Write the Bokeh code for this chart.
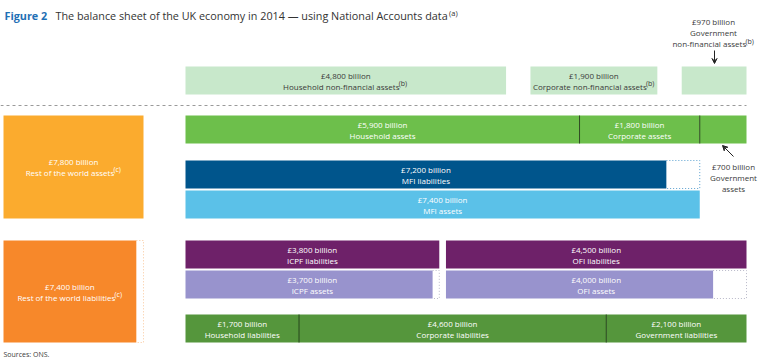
from bokeh.plotting import figure
from bokeh.models import Range1d, ColumnDataSource, Arrow, VeeHead
from bokeh.core.properties import value
from bokeh.embed import file_html
from bokeh.resources import INLINE

# ---------------- data (£ billion, 2014) ----------------
sectors = ["Household", "Corporate", "Government"]
nfa_values = [4800, 1900, 970]          # non-financial assets
asset_values = [5900, 1800, 700]        # financial assets by sector
liability_values = [1700, 4600, 2100]   # liabilities by sector
mfi_names = ["MFI liabilities", "MFI assets"]
mfi_values = [7200, 7400]
fin_names = ["ICPF", "OFI"]
fin_liabilities = [3800, 4500]
fin_assets = [3700, 4000]
row_names = ["Rest of the world assets", "Rest of the world liabilities"]
row_values = [7800, 7400]

# ---------------- layout / style ----------------
W, H = 760, 361
FONT = "Open Sans"
MAIN_LEFT_PX, MAIN_WIDTH_PX = 185, 561
ROW_LEFT_PX, ROW_WIDTH_PX = 3, 140
FS = 8        # label font size (px)
SFS = 7       # superscript font size (px)

C_NFA = "#c8e8cb"
C_ASSET = "#6dbf4b"
C_MFI_L = "#00558c"
C_MFI_A = "#5bc1e8"
C_ROW_A = "#fbab2e"
C_ROW_L = "#f7882a"
C_FIN_L = "#6e2169"
C_FIN_A = "#9893cd"
C_LIAB = "#55963c"
C_TEXT = "#3a3a3a"
C_TITLE = "#1f70b5"

# approximate Open Sans advance widths (fraction of em) for centring superscripts
CW = {" ": 0.26, "a": 0.556, "b": 0.613, "c": 0.476, "d": 0.613, "e": 0.561, "f": 0.339,
      "g": 0.548, "h": 0.614, "i": 0.253, "j": 0.253, "k": 0.525, "l": 0.253, "m": 0.93,
      "n": 0.614, "o": 0.604, "p": 0.613, "q": 0.613, "r": 0.408, "s": 0.477, "t": 0.353,
      "u": 0.614, "v": 0.5, "w": 0.778, "x": 0.524, "y": 0.502, "z": 0.461, "-": 0.322,
      "(": 0.296, ")": 0.296, "—": 1.0, ",": 0.245, ".": 0.266}


def tw(s, size):
    w = 0.0
    for ch in s:
        if ch in CW:
            w += CW[ch]
        elif ch.isdigit():
            w += 0.572
        elif ch.isupper():
            w += 0.66
        else:
            w += 0.55
    return w * size


total = sum(asset_values)
k = MAIN_WIDTH_PX / total
main_range = Range1d(-MAIN_LEFT_PX / k, (W - MAIN_LEFT_PX) / k)
kr = ROW_WIDTH_PX / max(row_values)
row_range = Range1d(-ROW_LEFT_PX / kr, (W - ROW_LEFT_PX) / kr)

p = figure(width=W, height=H, x_range=main_range, y_range=Range1d(H, 0),
           output_backend="svg", toolbar_location=None, min_border=0,
           x_axis_location=None, y_axis_location=None)
p.grid.visible = False
p.outline_line_color = None
p.background_fill_color = "white"
p.border_fill_color = "white"
p.extra_x_ranges = {"px": Range1d(0, W), "row": row_range}
px_per_unit = {"default": k, "row": kr, "px": 1.0}


def bars(lefts, rights, top, bottom, color, range_name="default"):
    src = ColumnDataSource(dict(left=lefts, right=rights,
                                top=[top] * len(lefts), bottom=[bottom] * len(lefts)))
    p.quad(left="left", right="right", top="top", bottom="bottom", source=src,
           fill_color=color, line_color=None, x_range_name=range_name)


def txt(x, y, s, color, size, align, range_name, style="normal"):
    p.text(x=[x], y=[y], text=[s], text_color=color, text_font=value(FONT),
           text_font_size=f"{size}px", text_align=align, text_baseline="middle",
           text_font_style=style, x_range_name=range_name)


def label(x, y, lines, color="white", range_name="default", gap=11, sup=None):
    n = len(lines)
    ys = [y + (i - (n - 1) / 2) * gap for i in range(n)]
    for i, (s, yy) in enumerate(zip(lines, ys)):
        if sup is not None and i == n - 1:
            wm, ws = tw(s, FS), tw(sup, SFS)
            ppu = px_per_unit[range_name]
            anchor = x + (wm - ws) / 2 / ppu
            txt(anchor, yy, s, color, FS, "right", range_name)
            txt(anchor - 0.8 / ppu, yy - 2.5, sup, color, SFS, "left", range_name)
        else:
            txt(x, yy, s, color, FS, "center", range_name)


def dotted(x0, x1, top, bottom, color, range_name="default"):
    p.multi_line(xs=[[x0, x1, x1, x0]], ys=[[top, top, bottom, bottom]],
                 line_color=color, line_dash="1 2", line_width=1, x_range_name=range_name)


def money(v):
    return f"£{v:,} billion"


def cum(vals, gap=0):
    lefts, rights, x = [], [], 0
    for v in vals:
        lefts.append(x)
        rights.append(x + v)
        x += v + gap
    return lefts, rights

# ---- non-financial assets row (spread across full width) ----
nfa_gap = (total - sum(nfa_values)) / (len(nfa_values) - 1)
l, r = cum(nfa_values, nfa_gap)
bars(l, r, 66, 94, C_NFA)
for i in range(2):
    label((l[i] + r[i]) / 2, 80,
          [money(nfa_values[i]), f"{sectors[i]} non-financial assets"],
          color=C_TEXT, sup="(b)")

# dashed separator
p.line(x=[0, MAIN_LEFT_PX + MAIN_WIDTH_PX], y=[105, 105], line_color="#9a9a9a",
       line_dash="3 3", line_width=1, x_range_name="px")

# ---- sector financial assets ----
l, r = cum(asset_values)
bars(l, r, 115, 143, C_ASSET)
p.segment(x0=r[:-1], x1=r[:-1], y0=[115] * 2, y1=[143] * 2, line_color="#2f4a22", line_width=1)
for i in range(2):
    label((l[i] + r[i]) / 2, 129, [money(asset_values[i]), f"{sectors[i]} assets"])

# ---- MFI ----
mfi_slot = asset_values[0] + asset_values[1]
bars([0], [mfi_values[0]], 160, 188, C_MFI_L)
dotted(mfi_values[0], mfi_slot, 160, 188, "#5aa0d0")
bars([0], [mfi_slot], 190, 218, C_MFI_A)
label(mfi_values[0] / 2, 174, [money(mfi_values[0]), mfi_names[0]])
label(mfi_slot / 2, 204, [money(mfi_values[1]), mfi_names[1]])

# ---- ICPF / OFI ----
fin_gap = total - sum(fin_liabilities)
l, r = cum(fin_liabilities, fin_gap)
bars(l, r, 240, 268, C_FIN_L)
ra = [li + a for li, a in zip(l, fin_assets)]
bars(l, ra, 270, 298, C_FIN_A)
for i in range(2):
    dotted(ra[i], r[i], 270, 298, "#b8b8c8")
    label((l[i] + r[i]) / 2, 254, [money(fin_liabilities[i]), f"{fin_names[i]} liabilities"])
    label((l[i] + r[i]) / 2, 284, [money(fin_assets[i]), f"{fin_names[i]} assets"])

# ---- sector liabilities ----
l, r = cum(liability_values)
bars(l, r, 314, 342, C_LIAB)
p.segment(x0=r[:-1], x1=r[:-1], y0=[314] * 2, y1=[342] * 2, line_color="#24441a", line_width=1)
for i in range(3):
    label((l[i] + r[i]) / 2, 328, [money(liability_values[i]), f"{sectors[i]} liabilities"])

# ---- rest of the world ----
bars([0], [row_values[0]], 115, 218, C_ROW_A, "row")
label(row_values[0] / 2, 166, [money(row_values[0]), row_names[0]], range_name="row", sup="(c)")
bars([0], [row_values[1]], 240, 342, C_ROW_L, "row")
dotted(row_values[1], row_values[0], 240, 342, "#f9c79a", "row")
label(row_values[1] / 2, 291, [money(row_values[1]), row_names[1]], range_name="row", sup="(c)")

# ---- annotations ----
label(713, 32, [money(nfa_values[2]), "Government", "non-financial assets"],
      color=C_TEXT, range_name="px", sup="(b)")
p.add_layout(Arrow(end=VeeHead(size=5, line_color="#222", fill_color="#222"),
                   x_start=714, y_start=50, x_end=714, y_end=63,
                   line_color="#222", line_width=1, x_range_name="px"))
label(733, 177, [money(asset_values[2]), "Government", "assets"],
      color=C_TEXT, range_name="px")
p.add_layout(Arrow(end=VeeHead(size=5, line_color="#222", fill_color="#222"),
                   x_start=733, y_start=156, x_end=722, y_end=145,
                   line_color="#222", line_width=1, x_range_name="px"))

# title
TFS = 10.8
title_rest = "The balance sheet of the UK economy in 2014 — using National Accounts data"
txt(4, 15, "Figure 2", C_TITLE, TFS, "left", "px", style="bold")
title_end = 55 + tw(title_rest, TFS)
txt(55, 15, title_rest, "#333333", TFS, "left", "px")
txt(title_end + 1, 12, "(a)", "#333333", 7.5, "left", "px")

# source line
txt(3, 354, "Sources: ONS.", C_TEXT, 7, "left", "px")

open("out.html", "w").write(file_html(p, INLINE))
